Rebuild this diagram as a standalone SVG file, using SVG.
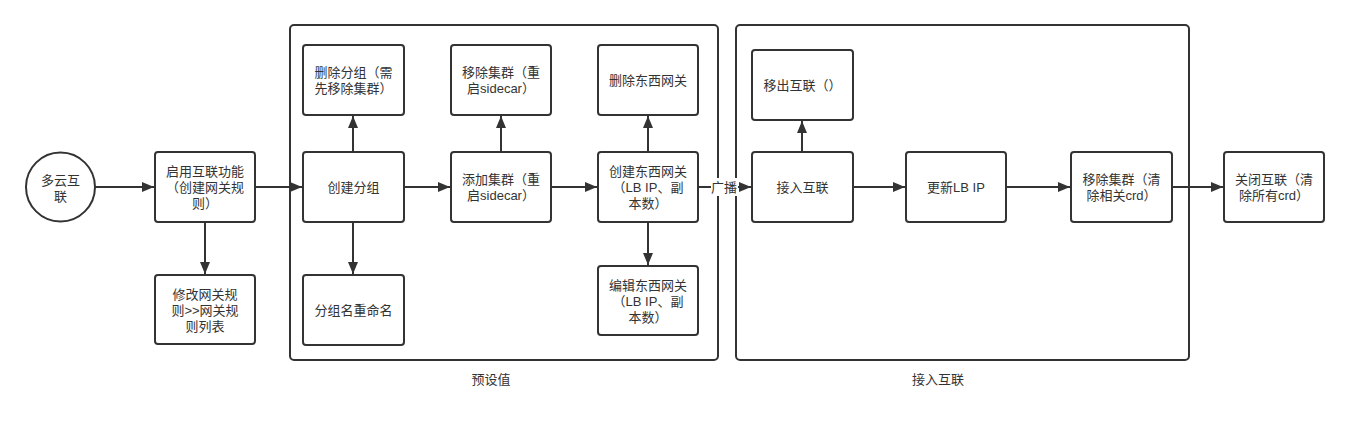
<svg xmlns="http://www.w3.org/2000/svg" width="1349" height="422" viewBox="0 0 1349 422">
<defs>
<style>
.box{fill:#fff;stroke:#333;stroke-width:2}
.cont{fill:none;stroke:#333;stroke-width:2}
.t{font-family:"Liberation Sans","Noto Sans CJK SC",sans-serif;font-size:13px;fill:#333;text-anchor:middle;dominant-baseline:central}
.e{fill:none;stroke:#333;stroke-width:2}
</style>
<marker id="ah" viewBox="0 0 12 10" refX="12" refY="5" markerWidth="12" markerHeight="10" markerUnits="userSpaceOnUse" orient="auto">
<path d="M0,0 L12,5 L0,10 z" fill="#333"/>
</marker>
</defs>
<rect width="1349" height="422" fill="#fff"/>
<g id="group-preset">
<rect class="cont" x="290" y="25" width="428" height="335" rx="4"/>
<text class="t" x="491" y="379">预设值</text>
</g>
<g id="group-connect">
<rect class="cont" x="736" y="25" width="453" height="335" rx="4"/>
<text class="t" x="938" y="379">接入互联</text>
</g>
<g id="connectors">
<path class="e" d="M95,187 H154" marker-end="url(#ah)"/>
<path class="e" d="M255,187 H302" marker-end="url(#ah)"/>
<path class="e" d="M205,222 V274" marker-end="url(#ah)"/>
<path class="e" d="M353,152 V116" marker-end="url(#ah)"/>
<path class="e" d="M353,222 V274" marker-end="url(#ah)"/>
<path class="e" d="M404,187 H450" marker-end="url(#ah)"/>
<path class="e" d="M501,152 V116" marker-end="url(#ah)"/>
<path class="e" d="M551,187 H597" marker-end="url(#ah)"/>
<path class="e" d="M648,152 V116" marker-end="url(#ah)"/>
<path class="e" d="M648,222 V265" marker-end="url(#ah)"/>
<path class="e" d="M698,187 H751" marker-end="url(#ah)"/>
<rect x="711" y="178" width="27" height="18" fill="#fff"/>
<text class="t" x="724" y="187">广播</text>
<path class="e" d="M802,152 V121" marker-end="url(#ah)"/>
<path class="e" d="M853,187 H905" marker-end="url(#ah)"/>
<path class="e" d="M1006,187 H1070" marker-end="url(#ah)"/>
<path class="e" d="M1172,187 H1223" marker-end="url(#ah)"/>
</g>
<g id="n-start">
<circle class="box" cx="60.5" cy="187" r="34.5"/>
<text class="t"><tspan x="60.5" y="180">多云互</tspan><tspan x="60.5" y="196">联</tspan></text>
</g>
<g id="n-enable">
<rect class="box" x="155" y="152" width="100" height="70" rx="3"/>
<text class="t"><tspan x="205" y="171">启用互联功能</tspan><tspan x="205" y="187">（创建网关规</tspan><tspan x="205" y="203">则）</tspan></text>
</g>
<g id="n-modify">
<rect class="box" x="155" y="275" width="100" height="69" rx="3"/>
<text class="t"><tspan x="205" y="294">修改网关规</tspan><tspan x="205" y="310">则&gt;&gt;网关规</tspan><tspan x="205" y="326">则列表</tspan></text>
</g>
<g id="n-delgroup">
<rect class="box" x="303" y="45" width="101" height="70" rx="3"/>
<text class="t"><tspan x="353.5" y="72">删除分组（需</tspan><tspan x="353.5" y="88">先移除集群）</tspan></text>
</g>
<g id="n-creategroup">
<rect class="box" x="303" y="152" width="101" height="70" rx="3"/>
<text class="t" x="353.5" y="187">创建分组</text>
</g>
<g id="n-rename">
<rect class="box" x="303" y="275" width="101" height="70" rx="3"/>
<text class="t" x="353.5" y="310">分组名重命名</text>
</g>
<g id="n-rmcluster">
<rect class="box" x="451" y="45" width="100" height="70" rx="3"/>
<text class="t"><tspan x="501" y="72">移除集群（重</tspan><tspan x="501" y="88">启sidecar）</tspan></text>
</g>
<g id="n-addcluster">
<rect class="box" x="451" y="152" width="100" height="70" rx="3"/>
<text class="t"><tspan x="501" y="179">添加集群（重</tspan><tspan x="501" y="195">启sidecar）</tspan></text>
</g>
<g id="n-delgw">
<rect class="box" x="598" y="45" width="100" height="70" rx="3"/>
<text class="t" x="648" y="80">删除东西网关</text>
</g>
<g id="n-creategw">
<rect class="box" x="598" y="152" width="100" height="70" rx="3"/>
<text class="t"><tspan x="648" y="171">创建东西网关</tspan><tspan x="648" y="187">（LB IP、副</tspan><tspan x="648" y="203">本数）</tspan></text>
</g>
<g id="n-editgw">
<rect class="box" x="598" y="266" width="100" height="69" rx="3"/>
<text class="t"><tspan x="648" y="285">编辑东西网关</tspan><tspan x="648" y="301">（LB IP、副</tspan><tspan x="648" y="317">本数）</tspan></text>
</g>
<g id="n-leave">
<rect class="box" x="752" y="50" width="101" height="70" rx="3"/>
<text class="t" x="802.5" y="85">移出互联（）</text>
</g>
<g id="n-join">
<rect class="box" x="752" y="152" width="101" height="70" rx="3"/>
<text class="t" x="802.5" y="187">接入互联</text>
</g>
<g id="n-updatelb">
<rect class="box" x="906" y="152" width="100" height="70" rx="3"/>
<text class="t" x="956" y="187">更新LB IP</text>
</g>
<g id="n-rmcluster2">
<rect class="box" x="1071" y="152" width="101" height="70" rx="3"/>
<text class="t"><tspan x="1121.5" y="179">移除集群（清</tspan><tspan x="1121.5" y="195">除相关crd）</tspan></text>
</g>
<g id="n-close">
<rect class="box" x="1224" y="152" width="100" height="70" rx="3"/>
<text class="t"><tspan x="1274" y="179">关闭互联（清</tspan><tspan x="1274" y="195">除所有crd）</tspan></text>
</g>
</svg>
